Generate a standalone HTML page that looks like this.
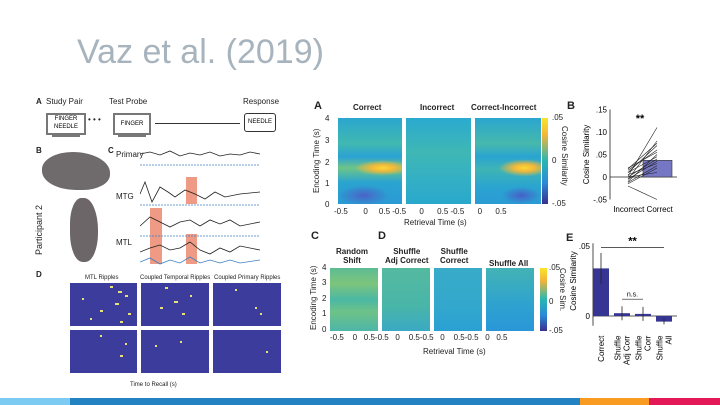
<!DOCTYPE html>
<html><head><meta charset="utf-8">
<style>
body{margin:0;width:720px;height:405px;background:#fff;position:relative;overflow:hidden;font-family:"Liberation Sans",sans-serif}
.abs{position:absolute}
.hm{position:absolute;overflow:hidden}
.t{position:absolute;font-size:8px;color:#222;white-space:nowrap}
.b{font-weight:bold}
</style></head><body>
<div class="abs" style="left:77px;top:33px;font-size:34px;color:#a7b4bd;letter-spacing:0px">Vaz et al. (2019)</div>

<!-- bottom bar -->
<div class="abs" style="left:0;top:398px;width:70px;height:7px;background:#7ccbf3"></div>
<div class="abs" style="left:70px;top:398px;width:510px;height:7px;background:#2383c2"></div>
<div class="abs" style="left:580px;top:398px;width:69px;height:7px;background:#f99a21"></div>
<div class="abs" style="left:649px;top:398px;width:71px;height:7px;background:#e31856"></div>

<!-- LEFT FIGURE -->
<div>
<div class="t b" style="left:36px;top:97px">A</div>
<div class="t" style="left:46px;top:97px">Study Pair</div>
<div class="t" style="left:109px;top:97px">Test Probe</div>
<div class="t" style="left:243px;top:97px">Response</div>
<div class="abs" style="left:46px;top:113px;width:36px;height:18px;border:2px solid #777;font-size:6px;text-align:center;line-height:8px">FINGER<br>NEEDLE</div>
<div class="abs" style="left:52px;top:135px;width:28px;height:2px;background:#777"></div>
<div class="t" style="left:88px;top:115px">• • •</div>
<div class="abs" style="left:113px;top:113px;width:34px;height:18px;border:2px solid #777;font-size:6px;text-align:center;line-height:18px">FINGER</div>
<div class="abs" style="left:118px;top:135px;width:28px;height:2px;background:#777"></div>
<div class="abs" style="left:155px;top:123px;width:85px;height:1px;background:#333"></div>
<div class="abs" style="left:244px;top:113px;width:30px;height:17px;border:1px solid #333;border-radius:3px;font-size:6px;text-align:center;line-height:17px">NEEDLE</div>
<div class="t b" style="left:36px;top:146px">B</div>
<div class="abs" style="left:42px;top:152px;width:68px;height:38px;background:#6f6a6c;border-radius:45% 55% 40% 50%"></div>
<div class="abs" style="left:70px;top:198px;width:28px;height:64px;background:#6c6668;border-radius:40% 50% 45% 45%"></div>
<div class="t" style="left:34px;top:255px;transform:rotate(-90deg);transform-origin:0 0;font-size:9px">Participant 2</div>
<div class="t b" style="left:108px;top:146px">C</div>
<div class="t" style="left:116px;top:150px">Primary</div>
<div class="t" style="left:116px;top:192px">MTG</div>
<div class="t" style="left:116px;top:238px">MTL</div>
<svg class="abs" style="left:140px;top:142px" width="135" height="125">
<rect x="46" y="35" width="11" height="27" fill="#ee9a85"/>
<rect x="10" y="66" width="12" height="56" fill="#ee9a85"/>
<rect x="46" y="92" width="11" height="30" fill="#ee9a85"/>
<polyline fill="none" stroke="#222" stroke-width="0.8" points="0,12 10,10 20,13 30,9 40,14 50,11 60,13 70,10 80,14 90,12 100,13 110,10 120,12"/>
<polyline fill="none" stroke="#3d7fc4" stroke-width="0.8" stroke-dasharray="2,1" points="0,23 120,23"/>
<polyline fill="none" stroke="#222" stroke-width="0.8" points="0,52 5,40 12,60 20,45 28,50 35,55 45,48 55,52 65,57 75,50 85,55 100,52 120,50"/>
<polyline fill="none" stroke="#3d7fc4" stroke-width="0.8" stroke-dasharray="2,1" points="0,63 120,63"/>
<polyline fill="none" stroke="#222" stroke-width="0.8" points="0,84 10,75 20,80 30,85 40,80 50,78 60,84 70,78 80,82 90,78 100,84 120,80"/>
<polyline fill="none" stroke="#3d7fc4" stroke-width="0.8" stroke-dasharray="2,1" points="0,94 120,94"/>
<polyline fill="none" stroke="#222" stroke-width="0.8" points="0,110 10,106 20,103 30,108 40,106 50,100 60,108 70,112 80,106 90,110 100,104 120,108"/>
<polyline fill="none" stroke="#3d7fc4" stroke-width="0.8" points="0,120 10,116 20,122 30,118 40,121 50,115 60,121 70,118 80,121 90,118 100,121 120,118"/>
<line x1="108" y1="127" x2="128" y2="127" stroke="#222"/>
</svg>
<div class="t b" style="left:36px;top:270px">D</div>
<div class="t" style="left:85px;top:275px;font-size:6px">MTL Ripples</div>
<div class="t" style="left:140px;top:275px;font-size:6px">Coupled Temporal Ripples</div>
<div class="t" style="left:214px;top:275px;font-size:6px">Coupled Primary Ripples</div>
<div class="abs" style="left:70px;top:283px;width:67px;height:43px;background:#3b3c9c"></div>
<div class="abs" style="left:141px;top:283px;width:68px;height:43px;background:#3b3c9c"></div>
<div class="abs" style="left:213px;top:283px;width:68px;height:43px;background:#3b3c9c"></div>
<div class="abs" style="left:70px;top:330px;width:67px;height:43px;background:#3b3c9c"></div>
<div class="abs" style="left:141px;top:330px;width:68px;height:43px;background:#3b3c9c"></div>
<div class="abs" style="left:213px;top:330px;width:68px;height:43px;background:#3b3c9c"></div>
<svg class="abs" style="left:70px;top:283px" width="211" height="90">
<g fill="#e8e07a">
<rect x="40" y="3" width="3" height="2"/><rect x="48" y="8" width="4" height="2"/><rect x="55" y="12" width="3" height="2"/><rect x="45" y="20" width="4" height="2"/><rect x="30" y="27" width="3" height="2"/><rect x="58" y="30" width="3" height="2"/><rect x="50" y="38" width="3" height="2"/><rect x="12" y="15" width="2" height="2"/><rect x="20" y="35" width="2" height="2"/>
<rect x="95" y="4" width="3" height="2"/><rect x="104" y="18" width="4" height="2"/><rect x="90" y="24" width="3" height="2"/><rect x="112" y="30" width="3" height="2"/><rect x="120" y="12" width="2" height="2"/>
<rect x="185" y="24" width="2" height="2"/><rect x="190" y="30" width="2" height="2"/><rect x="165" y="6" width="2" height="2"/>
<rect x="30" y="52" width="2" height="2"/><rect x="55" y="60" width="2" height="2"/><rect x="50" y="72" width="3" height="2"/><rect x="85" y="62" width="2" height="2"/><rect x="110" y="58" width="2" height="2"/><rect x="196" y="68" width="2" height="2"/>
</g></svg>
<div class="t" style="left:130px;top:382px;font-size:6px">Time to Recall (s)</div>
</div>

<!-- RIGHT FIGURE -->
<div>
<div class="t b" style="left:314px;top:100px;font-size:11px">A</div>
<div class="t b" style="left:353px;top:103px">Correct</div>
<div class="t b" style="left:420px;top:103px">Incorrect</div>
<div class="t b" style="left:471px;top:103px">Correct-Incorrect</div>
<div class="hm" style="left:338px;top:118px;width:64px;height:86px;background:radial-gradient(ellipse 45% 9% at 70% 58%,#fbd836,#f1b93a 40%,rgba(140,200,80,0) 100%),radial-gradient(ellipse 40% 12% at 40% 90%,#4a63c8,rgba(60,120,200,0)),linear-gradient(#2aa6d0,#41b8b0 30%,#2aa2d4 45%,#6dc488 58%,#2aa4d0 75%,#2a9ad4)"></div>
<div class="hm" style="left:406px;top:118px;width:65px;height:86px;background:linear-gradient(#2aaad0,#3fb7b4 40%,#34b0c4 70%,#2aa8cc)"></div>
<div class="hm" style="left:475px;top:118px;width:66px;height:86px;background:radial-gradient(ellipse 40% 10% at 75% 58%,#fcd836,#f1b83a 40%,rgba(140,200,80,0) 100%),radial-gradient(ellipse 30% 10% at 70% 90%,#4660c8,rgba(60,120,200,0)),linear-gradient(#2aa6d0,#46b8ac 30%,#2aa4d2 45%,#3eb4b4 60%,#2aa4d0 80%,#2a9cd4)"></div>
<div class="abs" style="left:542px;top:118px;width:6px;height:86px;background:linear-gradient(#f9e52a,#f2b53a 20%,#27b6b2 50%,#2a8ad8 75%,#3a2f8e)"></div>
<div class="t" style="left:552px;top:113px">.05</div><div class="t" style="left:552px;top:156px">0</div><div class="t" style="left:552px;top:199px">-.05</div>
<div class="t" style="left:569px;top:126px;transform:rotate(90deg);transform-origin:0 0">Cosine Similarity</div>
<div class="t" style="left:325px;top:114px">4</div><div class="t" style="left:325px;top:136px">3</div><div class="t" style="left:325px;top:158px">2</div><div class="t" style="left:325px;top:179px">1</div><div class="t" style="left:325px;top:200px">0</div>
<div class="t" style="left:312px;top:193px;transform:rotate(-90deg);transform-origin:0 0">Encoding Time (s)</div>
<div class="t" style="left:334px;top:207px">-0.5&nbsp;&nbsp;&nbsp;&nbsp;&nbsp;&nbsp;&nbsp;0&nbsp;&nbsp;&nbsp;&nbsp;&nbsp;0.5 -0.5&nbsp;&nbsp;&nbsp;&nbsp;&nbsp;&nbsp;0&nbsp;&nbsp;&nbsp;&nbsp;&nbsp;&nbsp;0.5 -0.5&nbsp;&nbsp;&nbsp;&nbsp;&nbsp;&nbsp;0&nbsp;&nbsp;&nbsp;&nbsp;&nbsp;&nbsp;0.5</div>
<div class="t" style="left:404px;top:218px">Retrieval Time (s)</div>

<div class="t b" style="left:567px;top:100px;font-size:11px">B</div>
<svg id="chartB" class="abs" style="left:560px;top:100px" width="140" height="125"></svg>

<div class="t b" style="left:311px;top:230px;font-size:11px">C</div>
<div class="t b" style="left:378px;top:230px;font-size:11px">D</div>
<div class="t b" style="left:336px;top:247px;text-align:center">Random<br>Shift</div>
<div class="t b" style="left:385px;top:247px;text-align:center">Shuffle<br>Adj Correct</div>
<div class="t b" style="left:440px;top:247px;text-align:center">Shuffle<br>Correct</div>
<div class="t b" style="left:489px;top:259px">Shuffle All</div>
<div class="hm" style="left:330px;top:268px;width:48px;height:63px;background:linear-gradient(#5dbc94,#7cc57c 25%,#4bb8a4 50%,#6ec288 70%,#4cb6a8)"></div>
<div class="hm" style="left:382px;top:268px;width:48px;height:63px;background:linear-gradient(#55b9a0,#49b6a8 60%,#3aa9c4)"></div>
<div class="hm" style="left:434px;top:268px;width:48px;height:63px;background:linear-gradient(#38abc8,#33a8cc 60%,#2aa0d4)"></div>
<div class="hm" style="left:486px;top:268px;width:48px;height:63px;background:linear-gradient(#43b3b4,#2ea2d0 60%,#2a96d8)"></div>
<div class="abs" style="left:540px;top:268px;width:7px;height:63px;background:linear-gradient(#f9e52a,#f2b53a 20%,#27b6b2 50%,#2a8ad8 75%,#3a2f8e)"></div>
<div class="t" style="left:549px;top:263px">.05</div><div class="t" style="left:549px;top:297px">0</div><div class="t" style="left:549px;top:326px">-.05</div>
<div class="t" style="left:567px;top:268px;transform:rotate(90deg);transform-origin:0 0">Cosine Sim.</div>
<div class="t" style="left:322px;top:263px">4</div><div class="t" style="left:322px;top:278px">3</div><div class="t" style="left:322px;top:294px">2</div><div class="t" style="left:322px;top:309px">1</div><div class="t" style="left:322px;top:325px">0</div>
<div class="t" style="left:309px;top:330px;transform:rotate(-90deg);transform-origin:0 0">Encoding Time (s)</div>
<div class="t" style="left:330px;top:333px">-0.5&nbsp;&nbsp;&nbsp;&nbsp;0&nbsp;&nbsp;&nbsp;0.5-0.5&nbsp;&nbsp;&nbsp;0&nbsp;&nbsp;&nbsp;&nbsp;0.5-0.5&nbsp;&nbsp;&nbsp;0&nbsp;&nbsp;&nbsp;&nbsp;0.5-0.5&nbsp;&nbsp;&nbsp;0&nbsp;&nbsp;&nbsp;0.5</div>
<div class="t" style="left:423px;top:347px">Retrieval Time (s)</div>

<div class="t b" style="left:566px;top:232px;font-size:11px">E</div>
<svg id="chartE" class="abs" style="left:560px;top:230px" width="140" height="140"></svg>
</div>

<script>
// Chart B data
const bIncorrect = [0.002,-0.005,0.01,-0.01,0.0,0.005,-0.015,0.02,0.015,-0.02,0.0,0.01,-0.005,-0.012,0.018];
const bCorrect   = [0.11,0.08,0.07,0.05,0.04,0.03,0.02,0.055,0.06,-0.05,0.01,0.045,0.035,0.025,0.075];
const bMeans = [0.0, 0.037];
const bTicks = [0.15,0.10,0.05,0,-0.05];
const bTickLabels = [".15",".10",".05","0","-.05"];
// Chart E data
const eCats = [["Correct"],["Shuffle","Adj Corr"],["Shuffle","Corr"],["Shuffle","All"]];
const eVals = [0.034,0.002,0.0015,-0.004];
const eErr = [0.011,0.005,0.005,0.002];
const eTicks = [0.05,0];
const eTickLabels = [".05","0"];

const NS="http://www.w3.org/2000/svg";
function mk(svg,tag,attrs){const e=document.createElementNS(NS,tag);for(const k in attrs)e.setAttribute(k,attrs[k]);svg.appendChild(e);return e;}

(function(){
 const svg=document.getElementById('chartB');
 const y=v=>77-v*450;
 const ax0=50, xI=68, xC=97;
 const ax=mk(svg,'line',{x1:ax0,y1:y(0.15),x2:ax0,y2:y(-0.05),stroke:'#222','stroke-width':0.8});
 
 bTicks.forEach((t,i)=>{
  const tx=mk(svg,'text',{x:ax0-3,y:y(t)+3,'font-size':8,'text-anchor':'end','font-family':'Liberation Sans'});
  tx.textContent=bTickLabels[i];
  
 });
 const zl=mk(svg,'line',{x1:ax0,y1:y(0),x2:117,y2:y(0),stroke:'#222','stroke-width':0.8});
 
 const bar=mk(svg,'rect',{x:xC-14,y:Math.min(y(bMeans[1]),y(0)),width:29,height:Math.abs(y(bMeans[1])-y(0)),fill:'#7577c4',stroke:'#333','stroke-width':0.6});
 
 bIncorrect.forEach((v,i)=>{
  const l=mk(svg,'line',{x1:xI,y1:y(v),x2:xC,y2:y(bCorrect[i]),stroke:'#222','stroke-width':0.6});
  
 });
 const st=mk(svg,'text',{x:80,y:22,'font-size':11,'text-anchor':'middle','font-weight':'bold'});st.textContent='**';
 
 const yl=mk(svg,'text',{x:0,y:0,'font-size':8,'text-anchor':'middle','font-family':'Liberation Sans',transform:`translate(29,${y(0.05)}) rotate(-90)`});yl.textContent='Cosine Similarity';
 
 const xl=mk(svg,'text',{x:83,y:112,'font-size':8,'text-anchor':'middle','font-family':'Liberation Sans'});xl.textContent='Incorrect Correct';
 
})();

(function(){
 const svg=document.getElementById('chartE');
 const y=v=>86-v*1400;
 const x0=33, bw=16, gap=21;
 const ax=mk(svg,'line',{x1:x0,y1:y(0.052),x2:x0,y2:y(-0.007),stroke:'#222','stroke-width':0.8});
 
 eTicks.forEach((t,i)=>{
  const tx=mk(svg,'text',{x:x0-3,y:y(t)+3,'font-size':8,'text-anchor':'end','font-family':'Liberation Sans'});tx.textContent=eTickLabels[i];
  
 });
 const zl=mk(svg,'line',{x1:x0,y1:y(0),x2:x0+4*gap,y2:y(0),stroke:'#222','stroke-width':0.8});
 
 eVals.forEach((v,i)=>{
  const bx=x0+i*gap;
  const r=mk(svg,'rect',{x:bx,y:Math.min(y(v),y(0)),width:bw,height:Math.max(1,Math.abs(y(v)-y(0))),fill:'#363594'});
  
  const e=mk(svg,'line',{x1:bx+bw/2,y1:y(v+eErr[i]),x2:bx+bw/2,y2:y(v-eErr[i]),stroke:'#222','stroke-width':0.8});
  
  const lines=eCats[i];
  lines.forEach((s,j)=>{
   const lb=mk(svg,'text',{x:0,y:0,'font-size':8,'text-anchor':'end','font-family':'Liberation Sans',transform:`translate(${bx+bw/2+3+(j-(lines.length-1)/2)*9},${y(-0.014)}) rotate(-90)`});lb.textContent=s;
   
  });
 });
 const sl=mk(svg,'line',{x1:x0+bw/2,y1:y(0.049),x2:x0+3*gap+bw/2,y2:y(0.049),stroke:'#222','stroke-width':0.8});
 
 const st=mk(svg,'text',{x:x0+1.5*gap+bw/2,y:y(0.051),'font-size':11,'text-anchor':'middle','font-weight':'bold'});st.textContent='**';
 
 const ns=mk(svg,'line',{x1:x0+gap+bw/2,y1:y(0.012),x2:x0+2*gap+bw/2,y2:y(0.012),stroke:'#222','stroke-width':0.6});
 
 const nt=mk(svg,'text',{x:x0+1.5*gap+bw/2,y:y(0.014),'font-size':7,'text-anchor':'middle','font-family':'Liberation Sans'});nt.textContent='n.s.';
 
 const yl=mk(svg,'text',{x:0,y:0,'font-size':8,'text-anchor':'middle','font-family':'Liberation Sans',transform:`translate(16,${y(0.025)}) rotate(-90)`});yl.textContent='Cosine Similarity';
 
})();
</script>
</body></html>
